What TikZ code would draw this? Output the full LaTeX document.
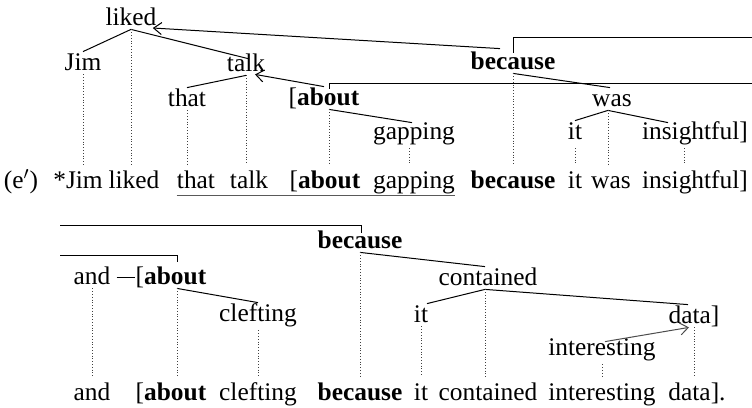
\documentclass[tikz,border=0pt]{standalone}
\usepackage{fontspec}
\setmainfont{Liberation Serif}
\usetikzlibrary{arrows.meta,calc}

\begin{document}
\begin{tikzpicture}[x=0.5pt,y=-0.5pt]
		\tikzstyle{every node}+=[inner sep=0pt]
		\tikzstyle{wd}=[font=\fontsize{12.7}{15}\selectfont, anchor=base, text height=9pt, text depth=2pt]
		\tikzstyle{row}=[wd, text height=11.5pt]
		\tikzstyle{low}=[text depth=4.5pt]
		\tikzstyle{br}=[black, line width=0.5pt]
		\tikzstyle{dep}=[black!75, densely dotted, line width=0.4pt]
		\tikzstyle{hd}=[line width=0.5pt, -{Straight Barb[length=4pt,width=6pt]}]
		\tikzstyle{ul}=[black!65, line width=0.5pt]
		\useasboundingbox (0,0) rectangle (752,408);

		% first sentence, tree
		\node[wd] (liked) at (131,25) {liked};
		\node[wd] (jim) at (83,70) {Jim};
		\node[wd] (talk) at (246,71) {talk};
		\node[wd] (that) at (187,106) {that};
		\node[wd] (about) at (324,105) {[\textbf{about}};
		\node[wd,low] (gapping) at (414,139) {gapping};
		\node[wd] (because) at (513,69) {\textbf{because}};
		\node[wd] (was) at (612,106) {was};
		\node[wd,low] (it) at (575,139) {it};
		\node[wd,low] (insightful) at (695,139) {insightful]};

		% first sentence, words
		\node[row] (ex) at (21,188) {(e$'$)};
		\node[row] (w-jim) at (78,188) {*Jim};
		\node[row] (w-liked) at (134,188) {liked};
		\node[row] (w-that) at (196,188) {that};
		\node[row] (w-talk) at (249,188) {talk};
		\node[row] (w-about) at (325,188) {[\textbf{about}};
		\node[row] (w-gapping) at (414,188) {gapping};
		\node[row] (w-because) at (513,188) {\textbf{because}};
		\node[row] (w-it) at (575,188) {it};
		\node[row] (w-was) at (611,188) {was};
		\node[row] (w-insightful) at (695,188) {insightful]};

		\draw[br] (liked.south) -- (jim.north);
		\draw[br] (liked.south) -- ($(talk.north)+(2,6)$);
		\draw[br] (talk.south) -- (that.north);
		\draw[br] ($(about.south)+(5,0)$) -- ($(gapping.north)+(-2,2)$);
		\draw[br] (because.south) -- ($(was.north)+(-2,0)$);
		\draw[br] ($(was.south)+(-4,0)$) -- (it.north);
		\draw[br] ($(was.south)+(-4,0)$) -- ($(insightful.north)+(-27,2)$);
		\draw[hd] ($(because.north)+(-13,-2)$) -- ($(liked.base east)+(-4,3)$);
		\draw[hd] (about.north) -- ($(talk.south)+(9,-1)$);

		\coordinate (cont-r1) at (752,37);
		\coordinate (cont-r2) at (752,83);
		\draw[br] ($(because.north)+(0,2)$) |- (cont-r1);
		\draw[br] ($(about.north)+(5,2)$) |- (cont-r2);

		\draw[dep] (jim.south) -- (jim.south |- w-jim.north);
		\draw[dep] (liked.south) -- (liked.south |- w-liked.north);
		\draw[dep] (that.south) -- (that.south |- w-that.north);
		\draw[dep] (talk.south) -- (talk.south |- w-talk.north);
		\draw[dep] ($(about.south)+(5,0)$) -- ($(about.south |- w-about.north)+(5,0)$);
		\draw[dep] ($(gapping.south)+(-5,0)$) -- ($(gapping.south |- w-gapping.north)+(-5,0)$);
		\draw[dep] (because.south) -- (because.south |- w-because.north);
		\draw[dep] (it.south) -- ($(it.south |- w-it.north)$);
		\draw[dep] ($(was.south)+(-4,0)$) -- ($(was.south |- w-was.north)+(-4,0)$);
		\draw[dep] ($(insightful.south)+(-11,0)$) -- ($(insightful.south |- w-insightful.north)+(-11,0)$);

		\draw[ul] ($(w-that.base west)+(0,7)$) -- ($(w-gapping.base east)+(0,7)$);

		% second sentence, tree
		\node[wd] (because2) at (360,248) {\textbf{because}};
		\node[wd] (and) at (92,284) {and};
		\node[wd] (about2) at (171,284) {[\textbf{about}};
		\node[wd,low] (clefting) at (258,321) {clefting};
		\node[wd] (contained) at (488,285) {contained};
		\node[wd] (it2) at (421,322) {it};
		\node[wd] (data) at (694,323) {data]};
		\node[wd,low] (interesting) at (602,355) {interesting};

		% second sentence, words
		\node[row] (w-and) at (92,400) {and};
		\node[row] (w-about2) at (171,400) {[\textbf{about}};
		\node[row] (w-clefting) at (258,400) {clefting};
		\node[row] (w-because2) at (360,400) {\textbf{because}};
		\node[row] (w-it2) at (421,400) {it};
		\node[row] (w-contained) at (488,400) {contained};
		\node[row] (w-interesting) at (602,400) {interesting};
		\node[row] (w-data) at (697,400) {data].};

		\coordinate (cont-l1) at (60,225);
		\coordinate (cont-l2) at (60,255);
		\draw[br] ($(because2.north)+(1,3)$) |- (cont-l1);
		\draw[br] ($(about2.north)+(6,-4)$) |- (cont-l2);
		\draw[br, shorten <=3pt] (and.east) -- (about2.west);

		\draw[br] ($(about2.south)+(6,0)$) -- (clefting.north);
		\draw[br] (because2.south) -- ($(contained.north)+(-3,0)$);
		\draw[br] ($(contained.south)+(-3,0)$) -- ($(it2.north)+(6,0)$);
		\draw[br] ($(contained.south)+(-3,0)$) -- ($(data.north)+(-6,0)$);
		\draw[hd, black!70] ($(interesting.north)+(3,5)$) -- ($(data.south)+(-5,0)$);

		\draw[dep] (and.south) -- (and.south |- w-and.north);
		\draw[dep] ($(about2.south)+(6,0)$) -- ($(about2.south |- w-about2.north)+(6,0)$);
		\draw[dep] (clefting.south) -- (clefting.south |- w-clefting.north);
		\draw[dep] (because2.south) -- (because2.south |- w-because2.north);
		\draw[dep] ($(contained.south)+(-3,0)$) -- ($(contained.south |- w-contained.north)+(-3,0)$);
		\draw[dep] (it2.south) -- (it2.south |- w-it2.north);
		\draw[dep] (interesting.south) -- (interesting.south |- w-interesting.north);
		\draw[dep] (data.south) -- (data.south |- w-data.north);
	\end{tikzpicture}
\end{document}
